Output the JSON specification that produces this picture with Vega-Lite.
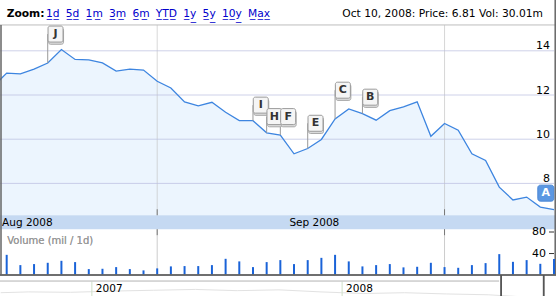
{
 "$schema": "https://vega.github.io/schema/vega-lite/v6.json",
 "width": 556, "height": 297,
 "autosize": {"type": "fit", "contains": "padding"},
 "padding": 0,
 "background": "white",
 "config": {"view": {"stroke": null}, "axis": {"disable": true}, "text": {"font": "DejaVu Sans"}},
 "datasets": {
  "daily": [
   {"date":"2008-08-13","price":12.38,"volume":20},
   {"date":"2008-08-14","price":12.99,"volume":37.6},
   {"date":"2008-08-15","price":12.96,"volume":18.5},
   {"date":"2008-08-18","price":13.17,"volume":20.4},
   {"date":"2008-08-19","price":13.45,"volume":22.8},
   {"date":"2008-08-20","price":14.06,"volume":26.5},
   {"date":"2008-08-21","price":13.61,"volume":24.1},
   {"date":"2008-08-22","price":13.59,"volume":11.1},
   {"date":"2008-08-25","price":13.45,"volume":11.7},
   {"date":"2008-08-26","price":13.08,"volume":14.8},
   {"date":"2008-08-27","price":13.17,"volume":11.1},
   {"date":"2008-08-28","price":13.13,"volume":8.7},
   {"date":"2008-08-29","price":12.62,"volume":12.4},
   {"date":"2008-09-02","price":12.32,"volume":16.1},
   {"date":"2008-09-03","price":11.69,"volume":16.7},
   {"date":"2008-09-04","price":11.51,"volume":16.7},
   {"date":"2008-09-05","price":11.67,"volume":18.5},
   {"date":"2008-09-08","price":11.22,"volume":30.2},
   {"date":"2008-09-09","price":10.84,"volume":25.4},
   {"date":"2008-09-10","price":10.84,"volume":14.8},
   {"date":"2008-09-11","price":10.29,"volume":24.1},
   {"date":"2008-09-12","price":10.19,"volume":27.8},
   {"date":"2008-09-15","price":9.34,"volume":20.4},
   {"date":"2008-09-16","price":9.58,"volume":27.8},
   {"date":"2008-09-17","price":9.99,"volume":32.0},
   {"date":"2008-09-18","price":10.92,"volume":37.6},
   {"date":"2008-09-19","price":11.37,"volume":25.4},
   {"date":"2008-09-22","price":11.16,"volume":16.1},
   {"date":"2008-09-23","price":10.86,"volume":18.5},
   {"date":"2008-09-24","price":11.29,"volume":20.4},
   {"date":"2008-09-25","price":11.46,"volume":14.3},
   {"date":"2008-09-26","price":11.69,"volume":15.4},
   {"date":"2008-09-29","price":10.13,"volume":22.8},
   {"date":"2008-09-30","price":10.71,"volume":14.8},
   {"date":"2008-10-01","price":10.41,"volume":13.5},
   {"date":"2008-10-02","price":9.34,"volume":18.5},
   {"date":"2008-10-03","price":9.04,"volume":22.2},
   {"date":"2008-10-06","price":7.83,"volume":38.9},
   {"date":"2008-10-07","price":7.25,"volume":24.6},
   {"date":"2008-10-08","price":7.38,"volume":27.8},
   {"date":"2008-10-09","price":6.93,"volume":20.9},
   {"date":"2008-10-10","price":6.81,"volume":30.01}
  ],
  "flags": [
   {"date":"2008-08-19","letter":"J","level":14.758,"price":13.45},
   {"date":"2008-09-10","letter":"I","level":11.542,"price":10.84},
   {"date":"2008-09-11","letter":"H","level":11.023,"price":10.29},
   {"date":"2008-09-12","letter":"F","level":11.023,"price":10.19},
   {"date":"2008-09-16","letter":"E","level":10.721,"price":9.58},
   {"date":"2008-09-18","letter":"C","level":12.218,"price":10.92},
   {"date":"2008-09-22","letter":"B","level":11.902,"price":11.16}
  ],
  "flagA": [{"date":"2008-10-09","letter":"A","level":7.559}],
  "monthEnds": [{"date":"2008-08-29"},{"date":"2008-09-30"}],
  "priceTicks": [{"v":8},{"v":10},{"v":12},{"v":14}],
  "volTicks": [{"v":40},{"v":80}],
  "months": [{"date":"2008-08-14","label":"Aug 2008"},{"date":"2008-09-15","label":"Sep 2008"}],
  "years": [{"date":"2007-01-01","label":"2007"},{"date":"2008-01-01","label":"2008"}],
  "hist": [
   {"date":"2006-08-21","close":12},{"date":"2006-10-01","close":13},{"date":"2006-12-01","close":12.5},
   {"date":"2007-02-01","close":14},{"date":"2007-04-01","close":15},{"date":"2007-06-01","close":16},
   {"date":"2007-08-01","close":14.5},{"date":"2007-10-01","close":15.5},{"date":"2007-12-01","close":13},
   {"date":"2008-02-01","close":11},{"date":"2008-04-01","close":12},{"date":"2008-06-01","close":10.5},
   {"date":"2008-08-01","close":9.5},{"date":"2008-10-10","close":6}
  ]
 },
 "resolve": {"scale": {"x": "independent", "y": "independent"}},
 "layer": [
  {
   "layer": [
    {"data": {"name": "daily"}, "mark": {"type": "area", "color": "#ecf5fe", "clip": true},
     "encoding": {
      "x": {"field": "date", "type": "ordinal", "scale": {"type": "point", "range": [-7, 554], "padding": 0}},
      "y": {"field": "price", "type": "quantitative", "scale": {"domain": [2.904, 16.3], "nice": false, "zero": false}},
      "y2": {"datum": 6.557}
     }},
    {"data": {"name": "monthEnds"}, "mark": {"type": "rule", "color": "#bcbcbc", "opacity": 0.6, "clip": true},
     "encoding": {
      "x": {"field": "date", "type": "ordinal", "scale": {"type": "point", "range": [-7, 554], "padding": 0}},
      "y": {"datum": 15.17, "type": "quantitative", "scale": {"domain": [2.904, 16.3], "nice": false, "zero": false}},
      "y2": {"datum": 6.557}
     }},
    {"data": {"name": "priceTicks"}, "mark": {"type": "rule", "color": "#b9bde0", "opacity": 0.7, "clip": true},
     "encoding": {
      "x": {"datum": "2008-08-13", "type": "ordinal", "scale": {"type": "point", "range": [-7, 554], "padding": 0}},
      "x2": {"datum": "2008-10-10"},
      "y": {"field": "v", "type": "quantitative", "scale": {"domain": [2.904, 16.3], "nice": false, "zero": false}}
     }},
    {"data": {"name": "priceTicks"}, "mark": {"type": "text", "align": "right", "baseline": "alphabetic", "dx": -4, "dy": -1.5, "fontSize": 11, "color": "#000"},
     "encoding": {
      "x": {"datum": "2008-10-10", "type": "ordinal", "scale": {"type": "point", "range": [-7, 554], "padding": 0}},
      "y": {"field": "v", "type": "quantitative", "scale": {"domain": [2.904, 16.3], "nice": false, "zero": false}},
      "text": {"field": "v", "type": "quantitative"}
     }},
    {"data": {"name": "flagA"}, "mark": {"type": "rule", "color": "#bdbdbd", "x2Offset": 3, "clip": true},
     "encoding": {
      "x": {"datum": "2008-08-13", "type": "ordinal", "scale": {"type": "point", "range": [-7, 554], "padding": 0}},
      "x2": {"datum": "2008-10-10"},
      "y": {"datum": 15.17, "type": "quantitative", "scale": {"domain": [2.904, 16.3], "nice": false, "zero": false}}
     }},
    {"data": {"name": "daily"}, "mark": {"type": "line", "color": "#3d85e0", "strokeWidth": 1.3, "clip": true},
     "encoding": {
      "x": {"field": "date", "type": "ordinal", "scale": {"type": "point", "range": [-7, 554], "padding": 0}},
      "y": {"field": "price", "type": "quantitative", "scale": {"domain": [2.904, 16.3], "nice": false, "zero": false}}
     }},
    {"data": {"name": "flags"}, "mark": {"type": "rule", "color": "#999999"},
     "encoding": {
      "x": {"field": "date", "type": "ordinal", "scale": {"type": "point", "range": [-7, 554], "padding": 0}},
      "y": {"field": "price", "type": "quantitative", "scale": {"domain": [2.904, 16.3], "nice": false, "zero": false}},
      "y2": {"field": "level"}
     }},
    {"data": {"name": "flags"}, "mark": {"type": "rect", "width": 15, "height": 16, "xOffset": 8.3, "yOffset": 2.2, "cornerRadius": 2, "fill": "#dcdcdc", "stroke": "#a8a8a8", "strokeWidth": 1},
     "encoding": {
      "x": {"field": "date", "type": "ordinal", "scale": {"type": "point", "range": [-7, 554], "padding": 0}},
      "y": {"field": "level", "type": "quantitative", "scale": {"domain": [2.904, 16.3], "nice": false, "zero": false}}
     }},
    {"data": {"name": "flags"}, "mark": {"type": "rect", "width": 15, "height": 16, "xOffset": 7.8, "cornerRadius": 2, "fill": "#f5f5f5", "stroke": "#9a9a9a", "strokeWidth": 1},
     "encoding": {
      "x": {"field": "date", "type": "ordinal", "scale": {"type": "point", "range": [-7, 554], "padding": 0}},
      "y": {"field": "level", "type": "quantitative", "scale": {"domain": [2.904, 16.3], "nice": false, "zero": false}}
     }},
    {"data": {"name": "flags"}, "mark": {"type": "text", "xOffset": 7.8, "baseline": "middle", "align": "center", "fontSize": 11, "fontWeight": "bold", "color": "#333333"},
     "encoding": {
      "x": {"field": "date", "type": "ordinal", "scale": {"type": "point", "range": [-7, 554], "padding": 0}},
      "y": {"field": "level", "type": "quantitative", "scale": {"domain": [2.904, 16.3], "nice": false, "zero": false}},
      "text": {"field": "letter"}
     }},
    {"data": {"name": "flagA"}, "mark": {"type": "rect", "width": 16, "height": 16, "xOffset": 5.5, "cornerRadius": 2.5, "fill": "#5b97e2", "stroke": "#4a86d4", "strokeWidth": 1},
     "encoding": {
      "x": {"field": "date", "type": "ordinal", "scale": {"type": "point", "range": [-7, 554], "padding": 0}},
      "y": {"field": "level", "type": "quantitative", "scale": {"domain": [2.904, 16.3], "nice": false, "zero": false}}
     }},
    {"data": {"name": "flagA"}, "mark": {"type": "text", "xOffset": 5.5, "baseline": "middle", "align": "center", "fontSize": 11, "fontWeight": "bold", "color": "white"},
     "encoding": {
      "x": {"field": "date", "type": "ordinal", "scale": {"type": "point", "range": [-7, 554], "padding": 0}},
      "y": {"field": "level", "type": "quantitative", "scale": {"domain": [2.904, 16.3], "nice": false, "zero": false}},
      "text": {"field": "letter"}
     }},
    {"data": {"name": "flagA"}, "mark": {"type": "rect", "fill": "#c5d9f2", "x2Offset": 3, "clip": true},
     "encoding": {
      "x": {"datum": "2008-08-13", "type": "ordinal", "scale": {"type": "point", "range": [-7, 554], "padding": 0}},
      "x2": {"datum": "2008-10-10"},
      "y": {"datum": 6.557, "type": "quantitative", "scale": {"domain": [2.904, 16.3], "nice": false, "zero": false}},
      "y2": {"datum": 5.926}
     }},
    {"data": {"name": "monthEnds"}, "mark": {"type": "rule", "color": "#777777"},
     "encoding": {
      "x": {"field": "date", "type": "ordinal", "scale": {"type": "point", "range": [-7, 554], "padding": 0}},
      "y": {"datum": 6.83, "type": "quantitative", "scale": {"domain": [2.904, 16.3], "nice": false, "zero": false}},
      "y2": {"datum": 6.557}
     }},
    {"data": {"name": "months"}, "mark": {"type": "text", "align": "left", "baseline": "alphabetic", "dx": -4.6, "fontSize": 10.5, "color": "#000"},
     "encoding": {
      "x": {"field": "date", "type": "ordinal", "scale": {"type": "point", "range": [-7, 554], "padding": 0}},
      "y": {"datum": 6.084, "type": "quantitative", "scale": {"domain": [2.904, 16.3], "nice": false, "zero": false}},
      "text": {"field": "label"}
     }},
    {"data": {"name": "flagA"}, "mark": {"type": "text", "align": "left", "baseline": "alphabetic", "fontSize": 10.7, "fontWeight": "bold", "color": "#000"},
     "encoding": {
      "x": {"datum": "2008-08-14", "type": "ordinal", "scale": {"type": "point", "range": [-7, 554], "padding": 0}},
      "y": {"datum": 15.511, "type": "quantitative", "scale": {"domain": [2.904, 16.3], "nice": false, "zero": false}},
      "text": {"value": "Zoom:"}
     }},
    {"data": {"name": "flagA"}, "mark": {"type": "text", "align": "left", "baseline": "alphabetic", "dx": -1.7, "fontSize": 10.7, "color": "#0000cc"},
     "encoding": {
      "x": {"datum": "2008-08-19", "type": "ordinal", "scale": {"type": "point", "range": [-7, 554], "padding": 0}},
      "y": {"datum": 15.511, "type": "quantitative", "scale": {"domain": [2.904, 16.3], "nice": false, "zero": false}},
      "text": {"value": "1\u0332d\u0332\u2004\u20055\u0332d\u0332\u2004\u20051\u0332m\u0332\u2004\u20053\u0332m\u0332\u2004\u20056\u0332m\u0332\u2004\u2005Y\u0332T\u0332D\u0332\u2004\u20051\u0332y\u0332\u2004\u20055\u0332y\u0332\u2004\u20051\u03320\u0332y\u0332\u2004\u2005M\u0332a\u0332x\u0332"}
     }},
    {"data": {"name": "flagA"}, "mark": {"type": "text", "align": "right", "baseline": "alphabetic", "dx": -11, "fontSize": 10.7, "color": "#000"},
     "encoding": {
      "x": {"datum": "2008-10-10", "type": "ordinal", "scale": {"type": "point", "range": [-7, 554], "padding": 0}},
      "y": {"datum": 15.511, "type": "quantitative", "scale": {"domain": [2.904, 16.3], "nice": false, "zero": false}},
      "text": {"value": "Oct 10, 2008: Price: 6.81 Vol: 30.01m"}
     }},
    {"data": {"name": "flagA"}, "mark": {"type": "rule", "color": "#666666", "strokeWidth": 1.5, "xOffset": 8},
     "encoding": {
      "x": {"datum": "2008-08-13", "type": "ordinal", "scale": {"type": "point", "range": [-7, 554], "padding": 0}},
      "y": {"datum": 15.17, "type": "quantitative", "scale": {"domain": [2.904, 16.3], "nice": false, "zero": false}},
      "y2": {"datum": 3.85}
     }},
    {"data": {"name": "flagA"}, "mark": {"type": "rule", "color": "#666666", "strokeWidth": 1.5, "xOffset": 1.2, "clip": true},
     "encoding": {
      "x": {"datum": "2008-10-10", "type": "ordinal", "scale": {"type": "point", "range": [-7, 554], "padding": 0}},
      "y": {"datum": 16.3, "type": "quantitative", "scale": {"domain": [2.904, 16.3], "nice": false, "zero": false}},
      "y2": {"datum": 3.85}
     }}
   ]
  },
  {
   "layer": [
    {"data": {"name": "monthEnds"}, "mark": {"type": "rule", "color": "#cccccc"},
     "encoding": {
      "x": {"field": "date", "type": "ordinal", "scale": {"type": "point", "range": [-7, 554], "padding": 0}},
      "y": {"datum": 0, "type": "quantitative", "scale": {"domain": [-38.9, 511.1], "nice": false, "zero": false}},
      "y2": {"datum": 85.2}
     }},
    {"data": {"name": "monthEnds"}, "mark": {"type": "rule", "color": "#777777"},
     "encoding": {
      "x": {"field": "date", "type": "ordinal", "scale": {"type": "point", "range": [-7, 554], "padding": 0}},
      "y": {"datum": 74.1, "type": "quantitative", "scale": {"domain": [-38.9, 511.1], "nice": false, "zero": false}},
      "y2": {"datum": 85.2}
     }},
    {"data": {"name": "daily"}, "mark": {"type": "rule", "color": "#1a63d8", "strokeWidth": 2, "clip": true},
     "encoding": {
      "x": {"field": "date", "type": "ordinal", "scale": {"type": "point", "range": [-7, 554], "padding": 0}},
      "y": {"field": "volume", "type": "quantitative", "scale": {"domain": [-38.9, 511.1], "nice": false, "zero": false}},
      "y2": {"datum": 0}
     }},
    {"data": {"name": "volTicks"}, "mark": {"type": "text", "align": "right", "baseline": "middle", "dx": -8, "fontSize": 11, "color": "#000"},
     "encoding": {
      "x": {"datum": "2008-10-10", "type": "ordinal", "scale": {"type": "point", "range": [-7, 554], "padding": 0}},
      "y": {"field": "v", "type": "quantitative", "scale": {"domain": [-38.9, 511.1], "nice": false, "zero": false}},
      "text": {"field": "v", "type": "quantitative"}
     }},
    {"data": {"name": "volTicks"}, "mark": {"type": "rule", "color": "#333333", "xOffset": -5},
     "encoding": {
      "x": {"datum": "2008-10-10", "type": "ordinal", "scale": {"type": "point", "range": [-7, 554], "padding": 0}},
      "x2": {"datum": "2008-10-10"},
      "y": {"field": "v", "type": "quantitative", "scale": {"domain": [-38.9, 511.1], "nice": false, "zero": false}}
     }},
    {"data": {"name": "volTicks"}, "mark": {"type": "text", "align": "left", "baseline": "alphabetic", "dx": 0.6, "fontSize": 10, "color": "#999999"},
     "encoding": {
      "x": {"datum": "2008-08-14", "type": "ordinal", "scale": {"type": "point", "range": [-7, 554], "padding": 0}},
      "y": {"datum": 56.9, "type": "quantitative", "scale": {"domain": [-38.9, 511.1], "nice": false, "zero": false}},
      "text": {"value": "Volume (mil / 1d)"}
     }},
    {"data": {"name": "volTicks"}, "mark": {"type": "rule", "color": "#666666", "strokeWidth": 1.5, "x2Offset": 3, "clip": true},
     "encoding": {
      "x": {"datum": "2008-08-13", "type": "ordinal", "scale": {"type": "point", "range": [-7, 554], "padding": 0}},
      "x2": {"datum": "2008-10-10"},
      "y": {"datum": 0, "type": "quantitative", "scale": {"domain": [-38.9, 511.1], "nice": false, "zero": false}}
     }}
   ]
  },
  {
   "layer": [
    {"data": {"name": "hist"}, "mark": {"type": "line", "color": "#e2e2e2", "strokeWidth": 1, "clip": true},
     "encoding": {
      "x": {"field": "date", "type": "temporal", "scale": {"domain": [{"year": 2006, "month": 8, "date": 20}, {"year": 2008, "month": 11, "date": 8}]}},
      "y": {"field": "close", "type": "quantitative", "scale": {"domain": [8, 368.6], "nice": false, "zero": false}}
     }},
    {"data": {"name": "years"}, "mark": {"type": "rule", "color": "#cfe0c8"},
     "encoding": {
      "x": {"field": "date", "type": "temporal", "scale": {"domain": [{"year": 2006, "month": 8, "date": 20}, {"year": 2008, "month": 11, "date": 8}]}},
      "y": {"datum": 26.2, "type": "quantitative", "scale": {"domain": [8, 368.6], "nice": false, "zero": false}},
      "y2": {"datum": 8}
     }},
    {"data": {"name": "years"}, "mark": {"type": "text", "align": "left", "baseline": "alphabetic", "dx": 4, "fontSize": 10.5, "color": "#000"},
     "encoding": {
      "x": {"field": "date", "type": "temporal", "scale": {"domain": [{"year": 2006, "month": 8, "date": 20}, {"year": 2008, "month": 11, "date": 8}]}},
      "y": {"datum": 12.86, "type": "quantitative", "scale": {"domain": [8, 368.6], "nice": false, "zero": false}},
      "text": {"field": "label"}
     }},
    {"data": {"name": "years"}, "mark": {"type": "rule", "color": "#cccccc", "clip": true},
     "encoding": {
      "x": {"datum": {"year": 2006, "month": 8, "date": 20}, "type": "temporal", "scale": {"domain": [{"year": 2006, "month": 8, "date": 20}, {"year": 2008, "month": 11, "date": 8}]}},
      "x2": {"datum": {"year": 2008, "month": 8, "date": 17}},
      "y": {"datum": 26.2, "type": "quantitative", "scale": {"domain": [8, 368.6], "nice": false, "zero": false}}
     }},
    {"data": {"name": "years"}, "mark": {"type": "rule", "color": "#555555", "strokeWidth": 1.5, "clip": true},
     "encoding": {
      "x": {"datum": {"year": 2008, "month": 8, "date": 20}, "type": "temporal", "scale": {"domain": [{"year": 2006, "month": 8, "date": 20}, {"year": 2008, "month": 11, "date": 8}]}},
      "y": {"datum": 33.5, "type": "quantitative", "scale": {"domain": [8, 368.6], "nice": false, "zero": false}},
      "y2": {"datum": 8}
     }},
    {"data": {"name": "years"}, "mark": {"type": "rule", "color": "#555555", "strokeWidth": 1.5, "clip": true},
     "encoding": {
      "x": {"datum": {"year": 2008, "month": 10, "date": 21}, "type": "temporal", "scale": {"domain": [{"year": 2006, "month": 8, "date": 20}, {"year": 2008, "month": 11, "date": 8}]}},
      "y": {"datum": 33.5, "type": "quantitative", "scale": {"domain": [8, 368.6], "nice": false, "zero": false}},
      "y2": {"datum": 8}
     }}
   ]
  }
 ]
}
